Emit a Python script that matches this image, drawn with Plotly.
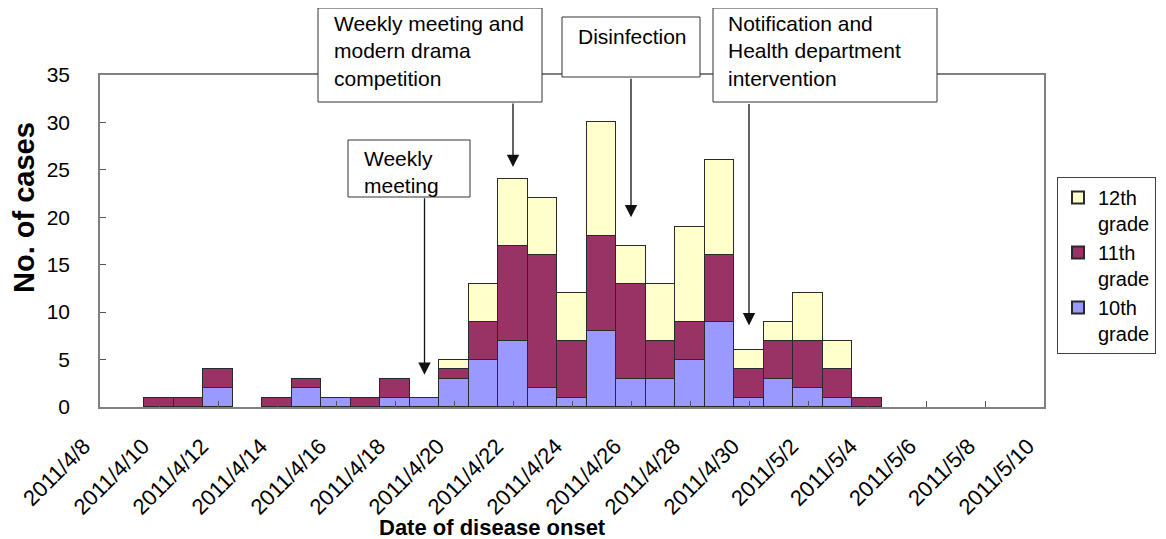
import pandas as pd
import plotly.graph_objects as go

# ---- data ----
dates = ["2011-04-10", "2011-04-11", "2011-04-12", "2011-04-13", "2011-04-14",
         "2011-04-15", "2011-04-16", "2011-04-17", "2011-04-18", "2011-04-19",
         "2011-04-20", "2011-04-21", "2011-04-22", "2011-04-23", "2011-04-24",
         "2011-04-25", "2011-04-26", "2011-04-27", "2011-04-28", "2011-04-29",
         "2011-04-30", "2011-05-01", "2011-05-02", "2011-05-03", "2011-05-04"]
grade10 = [0, 0, 2, 0, 0, 2, 1, 0, 1, 1, 3, 5, 7, 2, 1, 8, 3, 3, 5, 9, 1, 3, 2, 1, 0]
grade11 = [1, 1, 2, 0, 1, 1, 0, 1, 2, 0, 1, 4, 10, 14, 6, 10, 10, 4, 4, 7, 3, 4, 5, 3, 1]
grade12 = [0, 0, 0, 0, 0, 0, 0, 0, 0, 0, 1, 4, 7, 6, 5, 12, 4, 6, 10, 10, 2, 2, 5, 3, 0]

tick_labels = ["2011/4/8", "2011/4/10", "2011/4/12", "2011/4/14", "2011/4/16",
               "2011/4/18", "2011/4/20", "2011/4/22", "2011/4/24", "2011/4/26",
               "2011/4/28", "2011/4/30", "2011/5/2", "2011/5/4", "2011/5/6",
               "2011/5/8", "2011/5/10"]
tick_dates = pd.date_range("2011-04-08", "2011-05-10", freq="2D")

series = [("10th<br>grade", grade10, "#9999FF"),
          ("11th<br>grade", grade11, "#993366"),
          ("12th<br>grade", grade12, "#FFFFCC")]

FONT = "Liberation Sans, Arial, sans-serif"
OFF = 8  # default page body margin
W, H = 1166 - OFF, 539 - OFF
# plot area in screen pixels: x 100..1044, y 75..407
SX0, SX1, SY0, SY1 = 100, 1044, 75, 407
L, T = SX0 - OFF, SY0 - OFF
R, B = W - (SX1 - OFF), H - (SY1 - OFF)
PW, PH = SX1 - SX0, SY1 - SY0


def px(x):
    return (x - SX0) / PW


def py(y):
    return (SY1 - y) / PH


fig = go.Figure()
for name, vals, color in series:
    fig.add_trace(go.Bar(
        x=dates, y=[v if v else None for v in vals], name=name,
        width=86400000,
        marker=dict(color=color, line=dict(color="#2a2a2a", width=1)),
    ))

shapes = []
annotations = []

# annotation boxes (screen pixel geometry)
boxes = [
    (318, 8, 542, 102, 332, 51, "Weekly meeting and<br>modern drama<br>competition"),
    (562, 17, 700, 77, 576, 37, "Disinfection"),
    (713, 8, 937, 102, 726, 51, "Notification and<br>Health department<br>intervention"),
    (348, 140, 470, 197, 362, 171.5, "Weekly<br>meeting"),
]
for x0, y0, x1, y1, tx, ty, txt in boxes:
    shapes.append(dict(type="rect", xref="paper", yref="paper",
                       x0=px(x0), x1=px(x1), y0=py(y1), y1=py(y0),
                       line=dict(color="#333333", width=1), fillcolor="white",
                       layer="above"))
    annotations.append(dict(xref="paper", yref="paper", x=px(tx), y=py(ty),
                            xanchor="left", yanchor="middle", align="left",
                            text=txt, showarrow=False,
                            font=dict(family=FONT, size=21, color="black")))

# arrows (tip at date / value, tail at box bottom)
arrows = [("2011-04-22", 25.3, -65), ("2011-04-26", 20.0, -140),
          ("2011-04-30", 8.6, -223), ("2011-04-19", 3.4, -178)]
for d, v, ay in arrows:
    annotations.append(dict(x=d, y=v, xref="x", yref="y", ax=0, ay=ay,
                            text="", showarrow=True, arrowhead=2, arrowsize=1.9,
                            arrowwidth=1.3, arrowcolor="#111111", standoff=0))

# axis titles
annotations.append(dict(xref="paper", yref="paper", x=px(24), y=py(208),
                        xanchor="center", yanchor="middle",
                        text="<b>No. of cases</b>", textangle=-90, showarrow=False,
                        font=dict(family=FONT, size=29, color="black")))
annotations.append(dict(xref="paper", yref="paper", x=px(492), y=py(527),
                        xanchor="center", yanchor="middle",
                        text="<b>Date of disease onset</b>", showarrow=False,
                        font=dict(family=FONT, size=22, color="black")))

fig.update_layout(
    width=W, height=H,
    margin=dict(l=L, r=R, t=T, b=B, autoexpand=False),
    paper_bgcolor="white", plot_bgcolor="white",
    barmode="stack", bargap=0,
    font=dict(family=FONT, color="black"),
    showlegend=True,
    legend=dict(x=px(1057), y=py(177), xanchor="left", yanchor="top",
                traceorder="reversed", valign="top",
                bordercolor="#404040", borderwidth=1, bgcolor="white",
                font=dict(family=FONT, size=20, color="black"),
                itemsizing="constant"),
    shapes=shapes,
    annotations=annotations,
)
fig.update_xaxes(
    type="date", range=["2011-04-08", "2011-05-10"],
    tickvals=list(tick_dates), ticktext=tick_labels, tickangle=-45,
    tickfont=dict(family=FONT, size=22, color="black"),
    ticks="inside", ticklen=6, tickcolor="#555555",
    showline=True, linecolor="#808080", linewidth=1.5, mirror=True,
    showgrid=False, zeroline=False, ticklabelstandoff=16, ticklabelshift=-16,
)
fig.update_yaxes(
    range=[0, 35], dtick=5, tick0=0,
    tickfont=dict(family=FONT, size=21, color="black"),
    ticks="inside", ticklen=6, tickcolor="#555555",
    showline=True, linecolor="#808080", linewidth=1.5, mirror=True,
    showgrid=False, zeroline=False, ticklabelstandoff=24,
)

fig.write_html("out.html")
